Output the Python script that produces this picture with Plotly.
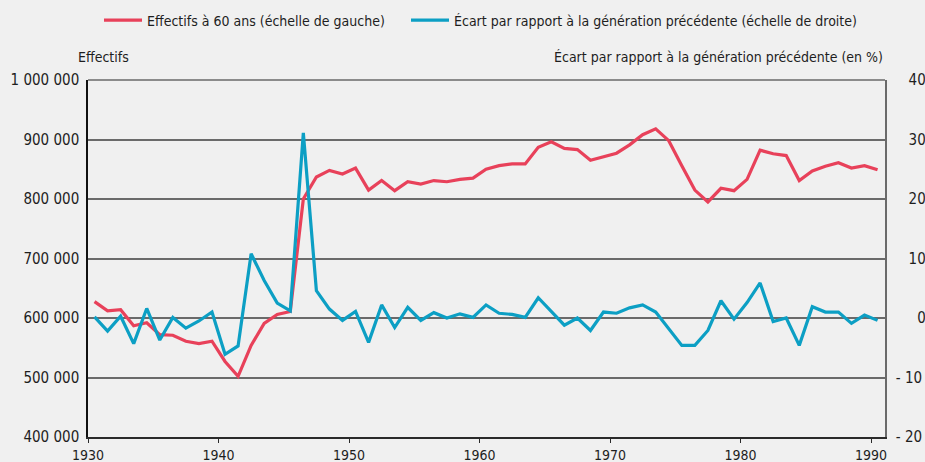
import plotly.graph_objects as go

years = list(range(1930, 1991))

effectifs = [
    627600, 612000, 614000, 587000, 592000, 572000, 571000, 561000, 557000, 561000,
    527000, 502000, 554000, 591000, 606000, 611000, 800000, 837000, 848000, 842000,
    852000, 815000, 831000, 814000, 829000, 825000, 831000, 829000, 833000, 835000,
    850000, 856000, 859000, 859000, 887000, 896000, 885000, 883000, 865000, 871000,
    877000, 891000, 908000, 918000, 898000, 856000, 815000, 795000, 818000, 814000,
    833000, 882000, 876000, 873000, 831000, 847000, 855000, 861000, 852000, 856000,
    849000,
]

ecart = [
    0.2, -2.2, 0.3, -4.3, 1.6, -3.7, 0.1, -1.7, -0.5, 1.0,
    -6.1, -4.7, 10.8, 6.3, 2.5, 1.2, 31.1, 4.6, 1.5, -0.4,
    1.1, -4.1, 2.2, -1.6, 1.8, -0.4, 0.9, 0.0, 0.7, 0.1,
    2.2, 0.8, 0.6, 0.1, 3.4, 1.1, -1.2, 0.0, -2.1, 1.0,
    0.8, 1.7, 2.2, 1.0, -1.8, -4.6, -4.6, -2.1, 2.9, -0.2,
    2.6, 5.9, -0.6, 0.0, -4.6, 1.9, 1.0, 1.0, -0.9, 0.5,
    -0.4,
]

x_ticks = [1930, 1940, 1950, 1960, 1970, 1980, 1990]
left_ticks = [400000, 500000, 600000, 700000, 800000, 900000, 1000000]
right_ticks = [-20, -10, 0, 10, 20, 30, 40]
right_ticktext = ["- 20", "- 10", "\u2007\u2007 0", "\u2007 10", "\u2007 20", "\u2007 30", "\u2007 40"]

name_left = "Effectifs à 60 ans (échelle de gauche)"
name_right = "Écart par rapport à la génération précédente (échelle de droite)"

RED = "#e8415a"
BLUE = "#0c9fc4"
BG = "#f0f0f0"
TXT = "#1e1e1e"
GRID = "#6a6a6a"
FONT = "DejaVu Sans Condensed, Liberation Sans Narrow, sans-serif"

# points plotted at mid-year
x_pos = [y + 0.5 for y in years]

fig = go.Figure()
fig.add_trace(go.Scatter(x=x_pos, y=effectifs, mode="lines", name=name_left,
                         line=dict(color=RED, width=3.2), yaxis="y", legend="legend"))
fig.add_trace(go.Scatter(x=x_pos, y=ecart, mode="lines", name=name_right,
                         line=dict(color=BLUE, width=3.2), yaxis="y2", legend="legend2"))

legend_common = dict(orientation="h", xanchor="left", xref="paper",
                     y=0.99, yanchor="top", yref="container",
                     font=dict(size=14, color=TXT), bgcolor="rgba(0,0,0,0)",
                     itemwidth=38)

fig.update_layout(
    width=925, height=462,
    margin=dict(l=88, r=40, t=80, b=25),
    paper_bgcolor=BG, plot_bgcolor=BG,
    font=dict(family=FONT, size=15, color=TXT),
    separators=", ",
    showlegend=True,
    legend=dict(x=0.0138, **legend_common),
    legend2=dict(x=0.399, **legend_common),
    xaxis=dict(range=[1930, 1991.07], tickvals=x_ticks, showgrid=False, zeroline=False,
               showline=True, linecolor="#2a2a2a", linewidth=1.5,
               ticks="outside", ticklen=4, tickcolor="#2a2a2a", tickwidth=1.2,
               automargin=False, tickfont=dict(size=14)),
    yaxis=dict(range=[400000, 1000000], tickvals=left_ticks, tickformat=",d",
               showgrid=True, gridcolor=GRID, gridwidth=1.5, zeroline=False,
               showline=True, linecolor="#111111", linewidth=1.5, ticks="",
               ticklabelstandoff=4, automargin=False, tickfont=dict(size=15)),
    yaxis2=dict(range=[-20, 40], tickvals=right_ticks, ticktext=right_ticktext,
                overlaying="y", side="right", showgrid=False, zeroline=False,
                showline=True, linecolor=GRID, linewidth=1.5, ticks="",
                ticklabelstandoff=6, automargin=False, tickfont=dict(size=15)),
    shapes=[
        dict(type="line", xref="paper", yref="paper", x0=0, x1=1, y0=1, y1=1,
             line=dict(color=GRID, width=1.5), layer="below"),
    ],
    annotations=[
        dict(text="Effectifs", xref="paper", yref="paper", x=-0.015, y=1.064,
             xanchor="left", yanchor="middle", showarrow=False,
             font=dict(size=14, color=TXT)),
        dict(text="Écart par rapport à la génération précédente (en %)", xref="paper",
             yref="paper", x=1.0, y=1.064, xanchor="right", yanchor="middle",
             showarrow=False, font=dict(size=14, color=TXT)),
    ],
)

fig.write_html("out.html", post_script="document.body.style.margin='0';",
               config={"displayModeBar": False})
